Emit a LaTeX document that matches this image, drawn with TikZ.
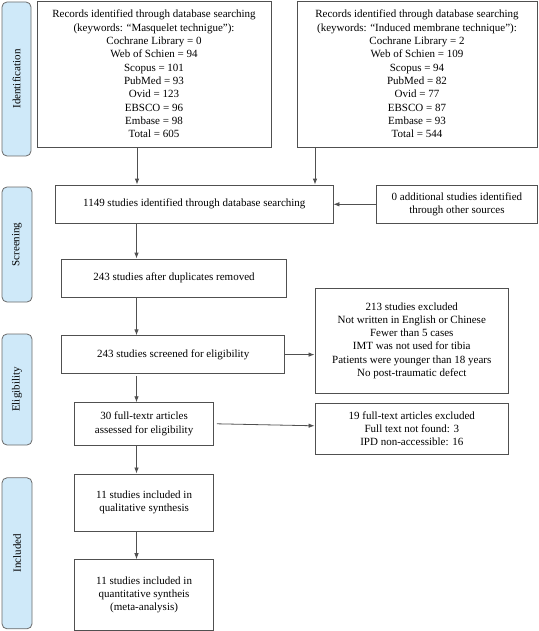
\documentclass[tikz,border=0pt]{standalone}
\usepackage{fontspec}
\setmainfont{Liberation Serif}
\usetikzlibrary{arrows.meta}
\definecolor{lineC}{HTML}{505050}
\definecolor{barFill}{HTML}{CFE9F9}
\definecolor{barLine}{HTML}{6A6A6A}
\tikzset{
  boxN/.style={draw=lineC, line width=0.8pt, inner sep=0pt, align=center,
    font=\fontsize{11}{13.3}\selectfont},
  barN/.style={draw=barLine, fill=barFill, line width=0.8pt, rounded corners=5pt,
    inner sep=0pt, rotate=90, font=\fontsize{11}{13.3}\selectfont},
  arr/.style={draw=lineC, line width=0.8pt, -{Latex[length=6pt,width=4.5pt]}}
}
\begin{document}
\begin{tikzpicture}[x=1pt,y=-1pt]
\useasboundingbox (0,0) rectangle (538,631);
% side bars
\node[barN, minimum width=154pt, minimum height=29pt] (ident) at (16.5,79) {Identification};
\node[barN, minimum width=115pt, minimum height=30pt] (screen) at (17,244.5) {Screening};
\node[barN, minimum width=111pt, minimum height=30pt] (elig) at (17,389.5) {Eligibility};
\node[barN, minimum width=151pt, minimum height=30pt] (incl) at (17,553.3) {Included};
% boxes
\node[boxN, minimum width=234pt, minimum height=146pt] (rec1) at (154,74)
 {Records identified through database searching\\(keywords: “Masquelet technigue”):\\Cochrane Library = 0\\Web of Schien = 94\\Scopus = 101\\PubMed = 93\\Ovid = 123\\EBSCO = 96\\Embase = 98\\Total = 605};
\node[boxN, minimum width=240pt, minimum height=146pt] (rec2) at (417,74)
 {Records identified through database searching\\(keywords: “Induced membrane technique”):\\Cochrane Library = 2\\Web of Schien = 109\\Scopus = 94\\PubMed = 82\\Ovid = 77\\EBSCO = 87\\Embase = 93\\Total = 544};
\node[boxN, minimum width=277.4pt, minimum height=38.6pt] (s1149) at (194.3,204.3)
 {1149 studies identified through database searching};
\node[boxN, minimum width=160.3pt, minimum height=38.6pt] (add) at (456.9,204.3)
 {0 additional studies identified\\through other sources};
\node[boxN, minimum width=224.7pt, minimum height=38pt] (dup) at (174,278)
 {243 studies after duplicates removed};
\node[boxN, minimum width=223pt, minimum height=37.7pt] (scr) at (173.2,354.6)
 {243 studies screened for eligibility};
\node[boxN, minimum width=193.7pt, minimum height=104.6pt] (excl1) at (411.8,340.7)
 {213 studies excluded\\Not written in English or Chinese\\Fewer than 5 cases\\IMT was not used for tibia\\Patients were younger than 18 years\\No post-traumatic defect};
\node[boxN, minimum width=138.6pt, minimum height=42.3pt] (ft) at (144.1,423.8)
 {30 full-textr articles\\assessed for eligibility};
\node[boxN, minimum width=193.7pt, minimum height=50.7pt] (excl2) at (411.8,428.6)
 {19 full-text articles excluded\\Full text not found: 3\\IPD non-accessible: 16};
\node[boxN, minimum width=138.6pt, minimum height=57.5pt] (qual) at (144.1,502.7)
 {11 studies included in\\qualitative synthesis};
\node[boxN, minimum width=138.6pt, minimum height=70.4pt] (quant) at (144.1,594.8)
 {11 studies included in\\quantitative syntheis\\(meta-analysis)};
% connector helpers
\coordinate (ax) at (137,0);
\coordinate (bx) at (315,0);
\coordinate (mx) at (136.5,0);
% arrows
\draw[arr] (ax |- rec1.south) -- (ax |- s1149.north);
\draw[arr] (bx |- rec2.south) -- (bx |- s1149.north);
\draw[arr] (add.west) -- (add.west -| s1149.east);
\draw[arr] (mx |- s1149.south) -- (mx |- dup.north);
\draw[arr] (mx |- dup.south) -- (mx |- scr.north);
\draw[arr] (scr.east) -- (scr.east -| excl1.west);
\draw[arr] ([yshift=-2pt]mx |- scr.south) -- (mx |- ft.north);
\draw[arr] ([xshift=3pt]ft.east) -- ([yshift=-2pt]ft.east -| excl2.west);
\draw[arr] (mx |- ft.south) -- (mx |- qual.north);
\draw[arr] (mx |- qual.south) -- (mx |- quant.north);
\end{tikzpicture}
\end{document}
